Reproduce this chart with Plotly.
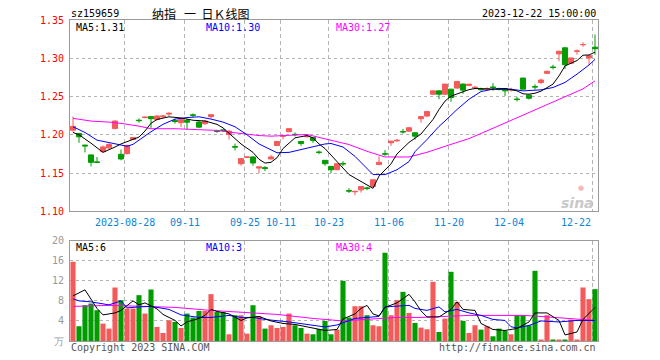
import plotly.graph_objects as go

# ---------------- data ----------------
opens = [1.206, 1.2017, 1.1865, 1.1737, 1.1645, 1.178, 1.1829, 1.2083, 1.1745, 1.1754,
         1.1938, 1.219, 1.2225, 1.2237, 1.220, 1.2235, 1.227, 1.2185, 1.2158, 1.2185,
         1.226, 1.2166, 1.2145, 1.2237, 1.205, 1.2062, 1.2004, 1.1845, 1.1622, 1.1705,
         1.171, 1.1565, 1.157, 1.1684, 1.186, 1.198, 1.204, 1.2006, 1.1912, 1.1975,
         1.1964, 1.1773, 1.1666, 1.1587, 1.1543, 1.1625, 1.127, 1.1255, 1.128, 1.1305,
         1.1324, 1.161, 1.1752, 1.1895, 1.1922, 1.2042, 1.2047, 1.2026, 1.221, 1.2245,
         1.253, 1.2574, 1.253, 1.2596, 1.261, 1.2662, 1.2645, 1.2615, 1.26, 1.2595,
         1.2625, 1.2605, 1.26, 1.2585, 1.2466, 1.2741, 1.2517, 1.263, 1.2684, 1.2803,
         1.2885, 1.3057, 1.3136, 1.2934, 1.309, 1.3177, 1.3004, 1.3145]
highs = [1.224, 1.2025, 1.187, 1.174, 1.171, 1.186, 1.189, 1.219, 1.1807, 1.1872,
         1.197, 1.2214, 1.224, 1.2245, 1.2255, 1.2255, 1.2295, 1.221, 1.2215, 1.221,
         1.228, 1.218, 1.219, 1.2265, 1.2065, 1.2075, 1.206, 1.1885, 1.1695, 1.1712,
         1.172, 1.1585, 1.159, 1.1737, 1.192, 1.200, 1.2085, 1.203, 1.1915, 1.200,
         1.197, 1.1795, 1.167, 1.159, 1.1625, 1.1655, 1.1302, 1.1265, 1.1325, 1.132,
         1.1415, 1.172, 1.180, 1.192, 1.1945, 1.2075, 1.210, 1.2035, 1.224, 1.231,
         1.258, 1.258, 1.2665, 1.260, 1.270, 1.267, 1.2665, 1.264, 1.2615, 1.262,
         1.2675, 1.2615, 1.2605, 1.2615, 1.2495, 1.2745, 1.252, 1.266, 1.2735, 1.284,
         1.2915, 1.310, 1.3145, 1.3005, 1.3115, 1.321, 1.304, 1.331]
lows = [1.204, 1.1895, 1.177, 1.1587, 1.1638, 1.177, 1.181, 1.207, 1.1666, 1.174,
        1.193, 1.2158, 1.2215, 1.209, 1.2188, 1.222, 1.2245, 1.2145, 1.210, 1.207,
        1.223, 1.2085, 1.213, 1.2215, 1.2025, 1.2035, 1.1938, 1.1795, 1.1596, 1.1695,
        1.1596, 1.150, 1.1525, 1.168, 1.1855, 1.194, 1.2035, 1.198, 1.1855, 1.1965,
        1.1895, 1.1745, 1.1596, 1.150, 1.154, 1.159, 1.124, 1.121, 1.1245, 1.1275,
        1.1315, 1.1605, 1.1725, 1.1855, 1.1905, 1.2015, 1.204, 1.1938, 1.2158, 1.223,
        1.252, 1.2465, 1.252, 1.243, 1.2605, 1.2535, 1.2635, 1.2596, 1.258, 1.258,
        1.2575, 1.258, 1.2508, 1.2565, 1.2435, 1.2595, 1.246, 1.259, 1.2662, 1.2795,
        1.2855, 1.296, 1.2859, 1.2925, 1.3048, 1.315, 1.2916, 1.3045]
closes = [1.211, 1.1974, 1.1855, 1.164, 1.164, 1.184, 1.1872, 1.2179, 1.1684, 1.186,
          1.1964, 1.2185, 1.223, 1.221, 1.2245, 1.2245, 1.228, 1.2175, 1.2201, 1.2165,
          1.2255, 1.210, 1.218, 1.2263, 1.2045, 1.2058, 1.2047, 1.184, 1.1688, 1.171,
          1.1632, 1.158, 1.1562, 1.171, 1.1912, 1.1985, 1.208, 1.2002, 1.1886, 1.198,
          1.1925, 1.177, 1.1622, 1.1543, 1.1622, 1.162, 1.1265, 1.126, 1.1324, 1.130,
          1.1412, 1.164, 1.1748, 1.1917, 1.1927, 1.2038, 1.2092, 1.1982, 1.2237, 1.2303,
          1.2574, 1.253, 1.2662, 1.2487, 1.2697, 1.2583, 1.266, 1.262, 1.259, 1.2605,
          1.2615, 1.2595, 1.2574, 1.259, 1.2462, 1.2596, 1.2478, 1.2625, 1.2715, 1.2829,
          1.288, 1.3092, 1.2916, 1.3004, 1.3095, 1.318, 1.3034, 1.3125]
volumes = [15.8, 2.94, 7.14, 7.47, 6.14, 3.47, 2.47, 10.67, 8.14, 6.47,
           6.47, 9.14, 5.47, 10.27, 2.8, 1.6, 4.14, 3.8, 2.6, 5.47,
           4.67, 6.0, 6.0, 9.34, 5.8, 5.8, 1.34, 5.14, 5.14, 1.47,
           7.14, 4.94, 2.47, 3.14, 2.6, 2.8, 5.47, 3.14, 2.6, 1.47,
           1.34, 2.4, 4.0, 1.34, 2.27, 12.0, 4.67, 6.94, 6.94, 5.14,
           3.14, 2.94, 17.6, 5.14, 8.14, 9.8, 5.6, 3.6, 2.67, 2.34,
           11.8, 1.8, 4.47, 13.8, 7.8, 4.0, 1.6, 3.14, 2.27, 2.94,
           0.94, 2.47, 2.0, 1.34, 5.14, 5.14, 3.14, 14.0, 0.3, 5.14,
           0.3, 0.3, 0.3, 4.27, 0.3, 10.67, 8.34, 10.34]

# moving-average lines (sampled at candle indices)
ma5_idx = [0, 1, 3, 4, 5, 7, 8, 10, 11, 12, 13, 14, 16, 18, 20, 22, 24, 25, 27, 28,
           30, 31, 32, 33, 34, 35, 37, 39, 40, 41, 42, 44, 46, 48, 50, 51, 53, 54, 56, 58,
           60, 61, 62, 63, 64, 66, 67, 70, 72, 74, 75, 76, 77, 78, 80, 81, 82, 84, 85, 86, 87]
ma5_val = [1.203, 1.200, 1.189, 1.183, 1.177, 1.184, 1.188, 1.194, 1.197, 1.205, 1.215, 1.220,
           1.2235, 1.222, 1.219, 1.218, 1.2136, 1.209, 1.195, 1.188, 1.177, 1.168, 1.163, 1.164,
           1.170, 1.182, 1.196, 1.199, 1.196, 1.188, 1.182, 1.165, 1.148, 1.139, 1.130, 1.146,
           1.162, 1.175, 1.190, 1.201, 1.220, 1.233, 1.244, 1.2505, 1.2535, 1.259, 1.2605,
           1.2596, 1.2605, 1.2574, 1.2535, 1.253, 1.2543, 1.257, 1.2662, 1.277, 1.290, 1.297,
           1.304, 1.3043, 1.308]
ma10_idx = [0, 2, 4, 6, 9, 10, 11, 13, 15, 17, 19, 21, 23, 25, 27, 29, 31, 32, 34, 36,
            38, 40, 42, 43, 45, 47, 49, 50, 52, 54, 56, 57, 59, 60, 61, 62, 64, 66, 68, 70,
            73, 75, 78, 80, 82, 84, 86, 87]
ma10_val = [1.2105, 1.203, 1.193, 1.1895, 1.185, 1.1875, 1.193, 1.204, 1.2136, 1.2205,
            1.2225, 1.2235, 1.2205, 1.2166, 1.2105, 1.200, 1.188, 1.184, 1.1765, 1.177,
            1.1805, 1.185, 1.188, 1.1886, 1.184, 1.1718, 1.1555, 1.148, 1.148, 1.1543,
            1.165, 1.178, 1.1938, 1.203, 1.211, 1.218, 1.233, 1.2464, 1.2565, 1.2596,
            1.2596, 1.2574, 1.2587, 1.2618, 1.2684, 1.2793, 1.2912, 1.2985]
ma30_idx = [0, 3, 6, 8, 11, 13, 17, 20, 24, 27, 31, 33, 36, 39, 42, 46, 49, 52, 56, 59,
            63, 66, 70, 73, 76, 79, 82, 85, 87]
ma30_val = [1.2215, 1.2179, 1.2166, 1.2149, 1.2113, 1.2079, 1.2079, 1.207, 1.2057, 1.2026,
            1.199, 1.1982, 1.199, 1.2004, 1.1947, 1.1872, 1.1784, 1.171, 1.171, 1.1771,
            1.1875, 1.195, 1.2085, 1.219, 1.229, 1.239, 1.250, 1.260, 1.2705]

vma5_idx = [0, 2, 4, 5, 7, 8, 10, 11, 12, 14, 15, 17, 18, 19, 21, 22, 23, 24, 26, 28,
            29, 31, 33, 35, 37, 39, 41, 42, 44, 45, 46, 47, 48, 49, 50, 51, 52, 54, 56, 57,
            58, 59, 61, 63, 64, 65, 67, 68, 70, 72, 74, 76, 77, 79, 81, 82, 84, 85, 87]
vma5_val = [9.0, 10.2, 6.5, 5.2, 5.6, 6.1, 8.0, 7.2, 7.6, 6.4, 5.3, 4.1, 3.0, 3.8, 4.5,
            5.1, 6.3, 5.9, 5.4, 4.1, 4.6, 4.9, 4.0, 3.5, 3.3, 2.8, 2.3, 2.1, 2.3, 4.4,
            4.9, 5.4, 6.5, 7.1, 5.4, 5.0, 6.7, 7.6, 9.3, 7.8, 6.0, 4.8, 4.8, 6.3, 7.8,
            6.3, 6.1, 3.5, 2.3, 2.1, 2.5, 3.8, 5.6, 5.6, 4.1, 1.2, 1.8, 4.3, 6.7]
vma10_idx = [0, 1, 3, 6, 8, 9, 11, 13, 16, 18, 21, 23, 26, 28, 30, 32, 36, 38, 40, 42,
             44, 47, 51, 52, 56, 57, 59, 61, 62, 64, 66, 68, 70, 72, 73, 74, 76, 78, 81, 84, 87]
vma10_val = [8.4, 8.0, 7.8, 7.2, 8.0, 6.6, 6.8, 6.9, 6.3, 5.2, 4.7, 4.7, 5.1, 4.7, 4.7,
             4.3, 3.8, 3.5, 3.1, 2.8, 3.2, 4.5, 4.9, 6.8, 7.1, 6.5, 6.1, 6.8, 5.8, 6.3,
             5.6, 5.1, 4.3, 4.1, 2.85, 2.6, 3.1, 4.0, 3.8, 4.1, 4.1]
vma30_idx = [0, 6, 12, 17, 23, 28, 34, 40, 45, 50, 54, 58, 62, 66, 71, 75, 78, 82, 87]
vma30_val = [6.9, 7.1, 6.9, 6.7, 6.1, 5.8, 5.3, 4.5, 4.0, 4.4, 4.7, 4.7, 4.9, 5.1, 5.1,
             5.1, 4.9, 4.5, 4.1]

tick_idx = [9, 19, 29, 35, 43, 53, 63, 73, 87]
tick_labels = ["2023-08-28", "09-11", "09-25", "10-11", "10-23", "11-06", "11-20", "12-04", "12-22"]
price_ticks = [1.10, 1.15, 1.20, 1.25, 1.30, 1.35]
vol_ticks = [0, 4, 8, 12, 16, 20]
vol_ticktext = ["万", "4", "8", "12", "16", "20"]

# ---------------- styling ----------------
RED = "#f55a5a"
GREEN = "#009c00"
GRID = "#b4b4b4"
FRAME = "#9a9a9a"
MONO = "DejaVu Sans Mono"

W, H = 660, 360
L, R, T, B = 70, 62, 20, 19
PH = H - T - B

def px(xp, yp):
    return (xp - L) / (W - L - R), (H - B - yp) / PH

n = len(closes)
xs = list(range(n))
vol_colors = [RED if c >= o else GREEN for o, c in zip(opens, closes)]
grid_x = [i - 0.4 for i in tick_idx]

fig = go.Figure()
fig.add_trace(go.Candlestick(
    x=xs, open=opens, high=highs, low=lows, close=closes,
    increasing=dict(line=dict(color=RED, width=1), fillcolor=RED),
    decreasing=dict(line=dict(color=GREEN, width=1), fillcolor=GREEN),
    whiskerwidth=0, xaxis="x", yaxis="y", showlegend=False, hoverinfo="skip"))
for ix, v, col in [(ma30_idx, ma30_val, "#ff00ff"), (ma10_idx, ma10_val, "#0000ff"),
                   (ma5_idx, ma5_val, "#000000")]:
    fig.add_trace(go.Scatter(x=ix, y=v, mode="lines", line=dict(color=col, width=1),
                             xaxis="x", yaxis="y", showlegend=False, hoverinfo="skip"))

fig.add_trace(go.Bar(x=xs, y=volumes, marker=dict(color=vol_colors, line=dict(width=0)),
                     xaxis="x2", yaxis="y2", showlegend=False, hoverinfo="skip"))
for ix, v, col in [(vma30_idx, vma30_val, "#ff00ff"), (vma10_idx, vma10_val, "#0000ff"),
                   (vma5_idx, vma5_val, "#000000")]:
    fig.add_trace(go.Scatter(x=ix, y=v, mode="lines", line=dict(color=col, width=1),
                             xaxis="x2", yaxis="y2", showlegend=False, hoverinfo="skip"))

y_price_bottom = px(0, 211.3)[1]
y_vol_top = px(0, 240.7)[1]

xcommon = dict(range=[-0.5, n - 0.5], tickvals=grid_x, showticklabels=False, ticks="",
               showgrid=True, gridcolor=GRID, griddash="4px,3px", gridwidth=1,
               showline=True, linecolor=FRAME, linewidth=1, mirror=True, zeroline=False,
               fixedrange=True)
fig.update_layout(
    width=W, height=H, margin=dict(l=L, r=R, t=T, b=B, autoexpand=False),
    paper_bgcolor="white", plot_bgcolor="white",
    boxgap=0.15, boxgroupgap=0, bargap=0.15,
    xaxis=dict(domain=[0, 1], anchor="y", rangeslider=dict(visible=False), **xcommon),
    xaxis2=dict(domain=[0, 1], anchor="y2", matches="x", **xcommon),
    yaxis=dict(domain=[y_price_bottom, 1], range=[1.10, 1.35], tickvals=price_ticks,
               ticktext=["%.2f" % v for v in price_ticks],
               tickfont=dict(family=MONO, size=10, color="#ff0000"),
               showgrid=True, gridcolor=GRID, griddash="dot", gridwidth=1,
               showline=True, linecolor=FRAME, linewidth=1, mirror=True, zeroline=False,
               ticks="", ticklabelstandoff=3, fixedrange=True),
    yaxis2=dict(domain=[0, y_vol_top], range=[0, 20], tickvals=vol_ticks, ticktext=vol_ticktext,
                tickfont=dict(family=MONO, size=10, color="#999999"),
                showgrid=True, gridcolor=GRID, griddash="dot", gridwidth=1,
                showline=True, linecolor=FRAME, linewidth=1, mirror=True, zeroline=False,
                ticks="", ticklabelstandoff=3, fixedrange=True),
    showlegend=False,
)

ann = []
def text(xp, yp, s, color="#000000", size=10, anchor="left", family=MONO, **kw):
    x, y = px(xp, yp)
    ann.append(dict(x=x, y=y, xref="paper", yref="paper", text=s, showarrow=False,
                    xanchor=anchor, yanchor="middle", font=dict(family=family, size=size, color=color),
                    **kw))

text(69, 13, "sz159659")
text(200, 13, "纳指&nbsp;&nbsp;&nbsp;一&nbsp;&nbsp;日Ｋ线图", size=12, anchor="center",
     family="Noto Sans CJK SC")
text(598, 13, "2023-12-22 15:00:00", anchor="right")
text(74, 27, "MA5:1.31")
text(204, 27, "MA10:1.30", color="#0000ff")
text(334, 27, "MA30:1.27", color="#ff00ff")
text(74, 247, "MA5:6")
text(204, 247, "MA10:3", color="#0000ff")
text(334, 247, "MA30:4", color="#ff00ff")
text(69, 347, "Copyright 2023 SINA.COM", color="#555555")
text(598, 347, "http://finance.sina.com.cn", color="#555555", anchor="right")

for i, lab in zip(tick_idx, tick_labels):
    gx = i - 0.4
    last = i == tick_idx[-1]
    ann.append(dict(x=gx + (0.1 if last else 0), y=px(0, 222.5)[1], xref="x", yref="paper",
                    text=lab, showarrow=False, xanchor="right" if last else "center",
                    yanchor="middle", font=dict(family=MONO, size=10, color="#0a86d8")))

# sina watermark
x, y = px(596, 203)
ann.append(dict(x=x, y=y, xref="paper", yref="paper", text="<b><i>sina</i></b>", showarrow=False,
                xanchor="right", yanchor="middle",
                font=dict(family="DejaVu Sans", size=14, color="#c9c9c9")))
x, y = px(581, 188)
ann.append(dict(x=x, y=y, xref="paper", yref="paper", text="●", showarrow=False,
                xanchor="center", yanchor="middle",
                font=dict(family="DejaVu Sans", size=7, color="#f4b8b8")))

fig.update_layout(annotations=ann)
fig.write_html("out.html", config={"displayModeBar": False},
               post_script="document.body.style.margin='0';document.body.style.padding='0';")
